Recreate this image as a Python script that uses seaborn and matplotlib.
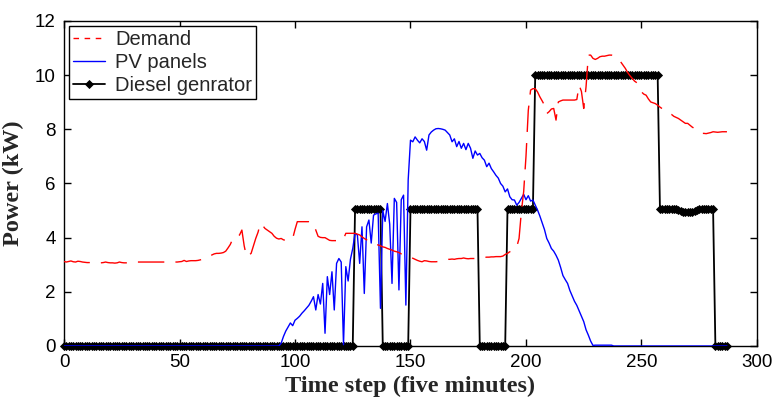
import numpy as np
import pandas as pd
import matplotlib
matplotlib.use("Agg")
import matplotlib.pyplot as plt
import seaborn as sns

# ---------------- data ----------------
time_step = list(range(288))

demand = [
    3.12, 3.10, 3.12, 3.14, 3.11, 3.10, 3.13, 3.12, 3.10, 3.09,
    3.08, 3.08, 3.07, 3.07, 3.06, 3.06, 3.07, 3.08, 3.10, 3.08,
    3.07, 3.07, 3.06, 3.07, 3.10, 3.08, 3.07, 3.07, 3.07, 3.08,
    3.09, 3.10, 3.10, 3.10, 3.10, 3.10, 3.10, 3.10, 3.10, 3.10,
    3.10, 3.10, 3.10, 3.10, 3.10, 3.10, 3.10, 3.10, 3.10, 3.10,
    3.11, 3.12, 3.16, 3.12, 3.14, 3.15, 3.15, 3.15, 3.16, 3.18,
    3.20, 3.25, 3.30, 3.32, 3.36, 3.40, 3.42, 3.42, 3.43, 3.45,
    3.50, 3.62, 3.75, 3.95, 4.05, 4.03, 4.10, 4.28, 3.70, 3.30,
    3.35, 3.42, 3.70, 3.97, 4.20, 4.53, 4.45, 4.34, 4.28, 4.22,
    4.16, 4.05, 3.98, 3.95, 3.97, 3.92, 3.90, 3.89, 3.92, 3.97,
    4.30, 4.59, 4.59, 4.59, 4.59, 4.59, 4.59, 4.57, 4.53, 4.28,
    4.05, 4.01, 4.00, 4.00, 3.95, 3.90, 3.89, 3.89, 3.89, 3.89,
    3.89, 3.95, 4.16, 4.16, 4.16, 4.16, 4.16, 4.13, 4.10, 4.03,
    3.97, 3.92, 3.85, 3.80, 3.77, 3.75, 3.73, 3.70, 3.66, 3.64,
    3.60, 3.57, 3.54, 3.50, 3.48, 3.45, 3.40, 3.36, 3.33, 3.30,
    3.27, 3.24, 3.20, 3.16, 3.13, 3.11, 3.15, 3.14, 3.12, 3.11,
    3.11, 3.11, 3.12, 3.14, 3.16, 3.18, 3.20, 3.20, 3.21, 3.20,
    3.22, 3.23, 3.23, 3.25, 3.23, 3.22, 3.23, 3.23, 3.23, 3.24,
    3.25, 3.26, 3.27, 3.28, 3.28, 3.29, 3.29, 3.30, 3.30, 3.30,
    3.32, 3.38, 3.42, 3.48, 3.52, 3.56, 3.66, 3.97, 4.96, 5.70,
    7.00, 8.70, 9.45, 9.50, 9.50, 9.38, 9.20, 9.05, 8.89, 8.58,
    8.65, 8.75, 8.77, 8.34, 9.01, 9.05, 9.08, 9.08, 9.08, 9.08,
    9.08, 9.08, 9.10, 9.63, 9.40, 8.77, 9.57, 10.74, 10.74, 10.62,
    10.58, 10.62, 10.68, 10.70, 10.70, 10.72, 10.74, 10.74, 10.72, 10.62,
    10.55, 10.49, 10.37, 10.25, 10.10, 9.98, 9.88, 9.78, 9.72, 9.55,
    9.38, 9.30, 9.26, 9.12, 9.01, 8.98, 8.95, 8.89, 8.82, 8.76,
    8.71, 8.66, 8.59, 8.55, 8.48, 8.44, 8.40, 8.34, 8.28, 8.22,
    8.22, 8.15, 8.08, 8.03, 7.97, 7.90, 7.85, 7.85, 7.84, 7.86,
    7.88, 7.91, 7.90, 7.89, 7.90, 7.91, 7.91, 7.91,
]

pv_panels = [
    0, 0, 0, 0, 0, 0, 0, 0, 0, 0,
    0, 0, 0, 0, 0, 0, 0, 0, 0, 0,
    0, 0, 0, 0, 0, 0, 0, 0, 0, 0,
    0, 0, 0, 0, 0, 0, 0, 0, 0, 0,
    0, 0, 0, 0, 0, 0, 0, 0, 0, 0,
    0, 0, 0, 0, 0, 0, 0, 0, 0, 0,
    0, 0, 0, 0, 0, 0, 0, 0, 0, 0,
    0, 0, 0, 0, 0, 0, 0, 0, 0, 0,
    0, 0, 0, 0, 0, 0, 0, 0, 0, 0,
    0, 0, 0, 0, 0.10, 0.35, 0.55, 0.70, 0.85, 0.75,
    0.95, 1.02, 1.10, 1.21, 1.30, 1.40, 1.50, 1.65, 1.82, 1.33,
    1.90, 1.55, 2.31, 0.47, 2.56, 1.90, 2.74, 1.33, 3.05, 3.23,
    3.10, 0.05, 2.93, 2.40, 3.20, 3.60, 4.16, 4.10, 3.05, 4.40,
    1.94, 4.40, 4.65, 3.80, 4.83, 4.88, 4.90, 1.39, 5.00, 4.60,
    5.26, 4.50, 2.31, 5.45, 5.30, 2.07, 5.40, 5.57, 1.51, 6.13,
    7.60, 7.54, 7.72, 7.60, 7.50, 7.65, 7.55, 7.23, 7.79, 7.90,
    7.97, 8.02, 8.03, 8.02, 8.00, 7.97, 7.88, 7.79, 7.54, 7.65,
    7.36, 7.55, 7.30, 7.48, 7.25, 7.48, 7.30, 6.93, 7.20, 7.05,
    7.11, 6.95, 6.86, 6.62, 6.75, 6.55, 6.43, 6.30, 6.20, 6.00,
    5.90, 5.69, 5.80, 5.51, 5.40, 5.39, 5.20, 5.30, 5.45, 5.60,
    5.40, 5.55, 5.35, 5.39, 5.20, 5.02, 4.80, 4.55, 4.30, 3.97,
    3.80, 3.60, 3.50, 3.35, 3.17, 2.90, 2.60, 2.45, 2.31, 2.05,
    1.85, 1.65, 1.50, 1.30, 1.10, 0.90, 0.60, 0.40, 0.18, 0.02,
    0.03, 0.03, 0.03, 0.03, 0.03, 0.03, 0.03, 0.03, 0, 0,
    0, 0, 0, 0, 0, 0, 0, 0, 0, 0,
    0, 0, 0, 0, 0, 0, 0, 0, 0, 0,
    0, 0, 0, 0, 0, 0, 0, 0, 0, 0,
    0, 0, 0, 0, 0, 0, 0, 0, 0, 0,
    0, 0, 0, 0, 0, 0, 0, 0,
]

diesel = [
    0, 0, 0, 0, 0, 0, 0, 0, 0, 0,
    0, 0, 0, 0, 0, 0, 0, 0, 0, 0,
    0, 0, 0, 0, 0, 0, 0, 0, 0, 0,
    0, 0, 0, 0, 0, 0, 0, 0, 0, 0,
    0, 0, 0, 0, 0, 0, 0, 0, 0, 0,
    0, 0, 0, 0, 0, 0, 0, 0, 0, 0,
    0, 0, 0, 0, 0, 0, 0, 0, 0, 0,
    0, 0, 0, 0, 0, 0, 0, 0, 0, 0,
    0, 0, 0, 0, 0, 0, 0, 0, 0, 0,
    0, 0, 0, 0, 0, 0, 0, 0, 0, 0,
    0, 0, 0, 0, 0, 0, 0, 0, 0, 0,
    0, 0, 0, 0, 0, 0, 0, 0, 0, 0,
    0, 0, 0, 0, 0, 0, 5.07, 5.07, 5.07, 5.07,
    5.07, 5.07, 5.07, 5.07, 5.07, 5.07, 5.07, 5.07, 0, 0,
    0, 0, 0, 0, 0, 0, 0, 0, 0, 0,
    5.07, 5.07, 5.07, 5.07, 5.07, 5.07, 5.07, 5.07, 5.07, 5.07,
    5.07, 5.07, 5.07, 5.07, 5.07, 5.07, 5.07, 5.07, 5.07, 5.07,
    5.07, 5.07, 5.07, 5.07, 5.07, 5.07, 5.07, 5.07, 5.07, 5.07,
    0, 0, 0, 0, 0, 0, 0, 0, 0, 0,
    0, 0, 5.07, 5.07, 5.07, 5.07, 5.07, 5.07, 5.07, 5.07,
    5.07, 5.07, 5.07, 5.07, 10.0, 10.0, 10.0, 10.0, 10.0, 10.0,
    10.0, 10.0, 10.0, 10.0, 10.0, 10.0, 10.0, 10.0, 10.0, 10.0,
    10.0, 10.0, 10.0, 10.0, 10.0, 10.0, 10.0, 10.0, 10.0, 10.0,
    10.0, 10.0, 10.0, 10.0, 10.0, 10.0, 10.0, 10.0, 10.0, 10.0,
    10.0, 10.0, 10.0, 10.0, 10.0, 10.0, 10.0, 10.0, 10.0, 10.0,
    10.0, 10.0, 10.0, 10.0, 10.0, 10.0, 10.0, 10.0, 5.05, 5.05,
    5.05, 5.05, 5.05, 5.05, 5.05, 5.04, 5.03, 4.98, 4.95, 4.93,
    4.95, 4.93, 4.95, 4.98, 5.03, 5.05, 5.05, 5.05, 5.05, 5.05,
    5.05, 5.05, 0, 0, 0, 0, 0, 0,
]

series_labels = ["Demand", "PV panels", "Diesel genrator"]
x_ticks = [0, 50, 100, 150, 200, 250, 300]
y_ticks = [0, 2, 4, 6, 8, 10, 12]

df = pd.DataFrame({"t": time_step, "demand": demand, "pv": pv_panels, "diesel": diesel})

# ---------------- plotting ----------------
sns.set_style("ticks")
plt.rcParams["font.family"] = ["Liberation Sans", "DejaVu Sans"]

fig = plt.figure(figsize=(7.74, 4.05), dpi=100)
ax = fig.add_axes([0.0827, 0.1457, 0.8953, 0.8025])

sns.lineplot(data=df, x="t", y="demand", ax=ax, color="#ff0000", lw=1.0,
             linestyle=(0, (19, 8)), label=series_labels[0], zorder=4)
sns.lineplot(data=df, x="t", y="pv", ax=ax, color="#0000ff", lw=1.0,
             label=series_labels[1], zorder=3)
sns.lineplot(data=df, x="t", y="diesel", ax=ax, color="black", lw=1.3,
             marker="D", markersize=4.3, markerfacecolor="black",
             markeredgecolor="black", markeredgewidth=0.6,
             label=series_labels[2], zorder=2, clip_on=False)

ax.set_xlim(0, 300)
ax.set_ylim(0, 12)
ax.set_xticks(x_ticks)
ax.set_yticks(y_ticks)
ax.tick_params(direction="in", top=True, right=True, length=5, width=1,
               labelsize=13.5, pad=6, colors="black")
for s in ax.spines.values():
    s.set_visible(True)
    s.set_color("black")
    s.set_linewidth(1.0)

ax.set_xlabel("Time step (five minutes)", family="Liberation Serif",
              fontweight="bold", fontsize=17.5, labelpad=3)
ax.set_ylabel("Power (kW)", family="Liberation Serif",
              fontweight="bold", fontsize=17.5, labelpad=8)

leg = ax.legend(loc="upper left", fontsize=14.5, frameon=True, fancybox=False,
                edgecolor="black", framealpha=1, borderaxespad=0.25,
                borderpad=0.2, labelspacing=0.2, handlelength=1.6,
                handletextpad=0.5)
leg.get_frame().set_linewidth(1.0)
leg.get_lines()[0].set_dashes((4, 4))
leg.set_zorder(10)

fig.savefig("out.png", dpi=100)
